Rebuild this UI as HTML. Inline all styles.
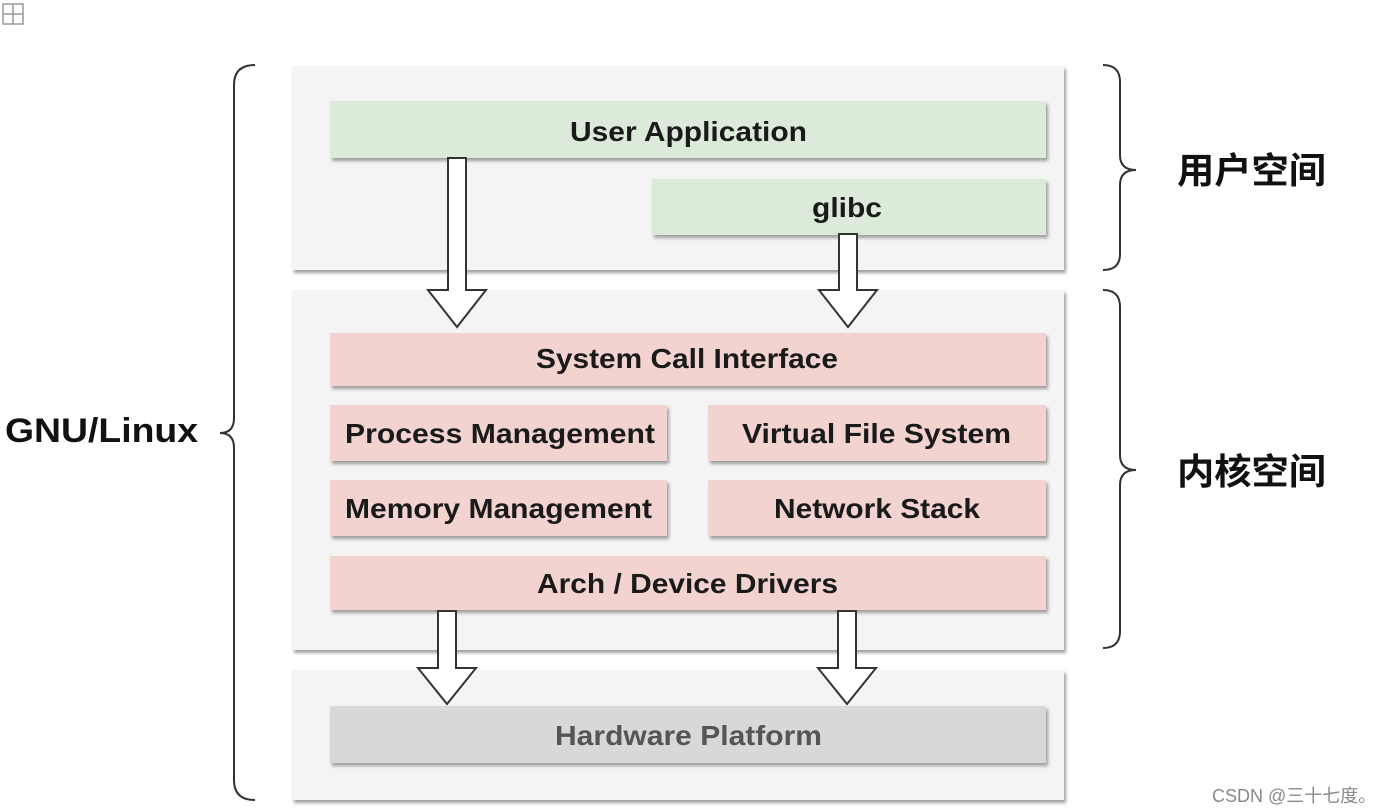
<!DOCTYPE html>
<html><head><meta charset="utf-8"><style>
html,body{margin:0;padding:0;background:#fff;}
svg{display:block}
text{font-family:"Liberation Sans","Noto Sans CJK SC",sans-serif;font-weight:bold;}
</style></head><body>
<svg width="1386" height="812" viewBox="0 0 1386 812" xmlns="http://www.w3.org/2000/svg">
<defs>
<filter id="sh" x="-5%" y="-20%" width="110%" height="150%"><feDropShadow dx="2" dy="3" stdDeviation="1.5" flood-color="#888" flood-opacity="0.8"/></filter>
</defs>
<rect x="3" y="4" width="20" height="20" fill="none" stroke="#999" stroke-width="1.5"/>
<line x1="3" y1="14" x2="23" y2="14" stroke="#999" stroke-width="1.5"/>
<line x1="13" y1="4" x2="13" y2="24" stroke="#999" stroke-width="1.5"/>
<g filter="url(#sh)">
<rect x="292" y="66" width="772" height="204" fill="#f4f4f4"/>
<rect x="292" y="290" width="772" height="360" fill="#f4f4f4"/>
<rect x="292" y="670" width="772" height="130" fill="#f4f4f4"/>
</g>
<g filter="url(#sh)">
<rect x="330" y="101" width="716" height="57" fill="#dcebd9"/>
<rect x="652" y="179" width="394" height="56" fill="#dcebd9"/>
<rect x="330" y="333" width="716" height="53" fill="#f2d3d0"/>
<rect x="330" y="405" width="337" height="56" fill="#f2d3d0"/>
<rect x="708" y="405" width="338" height="56" fill="#f2d3d0"/>
<rect x="330" y="480" width="337" height="56" fill="#f2d3d0"/>
<rect x="708" y="480" width="338" height="56" fill="#f2d3d0"/>
<rect x="330" y="556" width="716" height="54" fill="#f2d3d0"/>
<rect x="330" y="706" width="716" height="57" fill="#d8d8d8"/>
</g>
<g font-size="28" fill="#1a1a1a" lengthAdjust="spacingAndGlyphs">
<text x="570" y="141" textLength="237" lengthAdjust="spacingAndGlyphs">User Application</text>
<text x="812" y="217" textLength="70" lengthAdjust="spacingAndGlyphs">glibc</text>
<text x="536" y="368" textLength="302" lengthAdjust="spacingAndGlyphs">System Call Interface</text>
<text x="345" y="443" textLength="310" lengthAdjust="spacingAndGlyphs">Process Management</text>
<text x="742" y="443" textLength="269" lengthAdjust="spacingAndGlyphs">Virtual File System</text>
<text x="345" y="518" textLength="307" lengthAdjust="spacingAndGlyphs">Memory Management</text>
<text x="774" y="518" textLength="206" lengthAdjust="spacingAndGlyphs">Network Stack</text>
<text x="537" y="593" textLength="301" lengthAdjust="spacingAndGlyphs">Arch / Device Drivers</text>
<text x="555" y="745" textLength="267" lengthAdjust="spacingAndGlyphs" fill="#555">Hardware Platform</text>
</g>
<g fill="#fff" stroke="#333" stroke-width="2">
<path d="M448 158 L466 158 L466 290 L486 290 L457 327 L428 290 L448 290 Z"/>
<path d="M839 234 L857 234 L857 290 L877 290 L848 327 L819 290 L839 290 Z"/>
<path d="M438 611 L456 611 L456 668 L476 668 L447 704 L418 668 L438 668 Z"/>
<path d="M838 611 L856 611 L856 668 L876 668 L847 704 L818 668 L838 668 Z"/>
</g>
<g fill="none" stroke="#333" stroke-width="2">
<path d="M255 65 Q234 65 234 85 L234 418 Q234 433 220 433 Q234 433 234 448 L234 780 Q234 800 255 800"/>
<path d="M1103 65 Q1120 65 1120 82 L1120 155 Q1120 170 1136 170 Q1120 170 1120 185 L1120 254 Q1120 270 1103 270"/>
<path d="M1103 290 Q1120 290 1120 307 L1120 455 Q1120 470 1136 470 Q1120 470 1120 485 L1120 631 Q1120 648 1103 648"/>
</g>
<g font-size="36" fill="#111">
<text x="5" y="442" font-size="34" textLength="193" lengthAdjust="spacingAndGlyphs">GNU/Linux</text>
<text x="1177" y="183" textLength="149" lengthAdjust="spacingAndGlyphs">用户空间</text>
<text x="1177" y="484" textLength="149" lengthAdjust="spacingAndGlyphs">内核空间</text>
</g>
<text x="1212" y="802" font-size="18" fill="#888" style="font-weight:normal">CSDN @三十七度。</text>
</svg>
</body></html>
